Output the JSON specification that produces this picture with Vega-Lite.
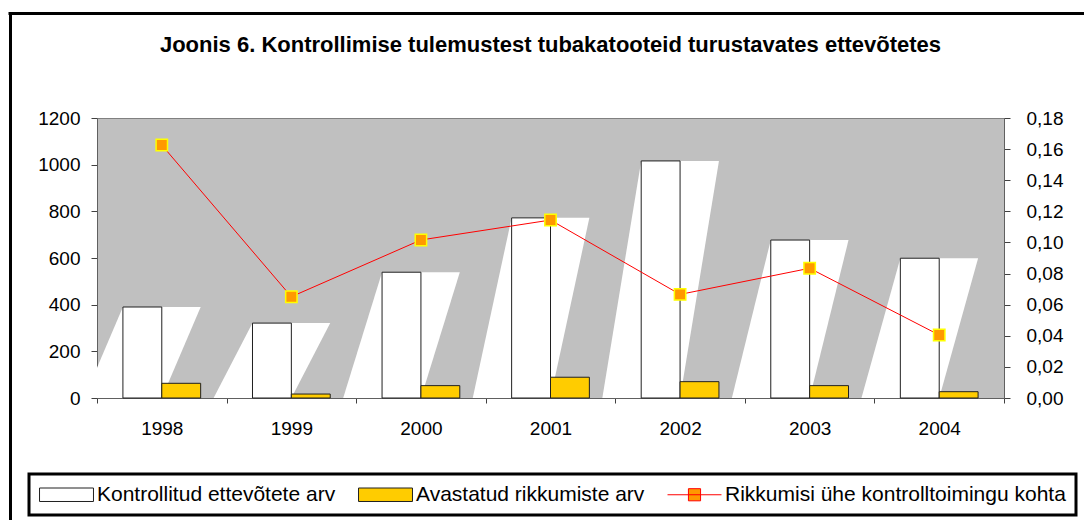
{
  "$schema": "https://vega.github.io/schema/vega-lite/v6.json",
  "width": 907,
  "height": 280,
  "autosize": {"type": "none"},
  "padding": {"left": 97, "top": 118, "right": 80, "bottom": 122},
  "background": "white",
  "config": {
    "font": "Liberation Sans",
    "view": {"fill": "#C0C0C0", "stroke": "#808080", "strokeWidth": 1},
    "axis": {"grid": false, "labelFont": "Liberation Sans", "labelFontSize": 19, "labelColor": "black", "domainColor": "#606060", "tickColor": "#404040", "title": null},
    "legend": {"strokeWidth": 3}
  },
  "title": {
    "text": "Joonis 6. Kontrollimise tulemustest tubakatooteid turustavates ettevõtetes",
    "font": "Liberation Sans",
    "fontSize": 22,
    "fontWeight": "bold",
    "color": "black",
    "anchor": "middle",
    "offset": -44
  },
  "datasets": {
    "bars": [
      {"year": "1998", "series": "Kontrollitud ettevõtete arv", "value": 390},
      {"year": "1999", "series": "Kontrollitud ettevõtete arv", "value": 321},
      {"year": "2000", "series": "Kontrollitud ettevõtete arv", "value": 539},
      {"year": "2001", "series": "Kontrollitud ettevõtete arv", "value": 772},
      {"year": "2002", "series": "Kontrollitud ettevõtete arv", "value": 1016},
      {"year": "2003", "series": "Kontrollitud ettevõtete arv", "value": 677},
      {"year": "2004", "series": "Kontrollitud ettevõtete arv", "value": 599},
      {"year": "1998", "series": "Avastatud rikkumiste arv", "value": 63},
      {"year": "1999", "series": "Avastatud rikkumiste arv", "value": 17},
      {"year": "2000", "series": "Avastatud rikkumiste arv", "value": 53},
      {"year": "2001", "series": "Avastatud rikkumiste arv", "value": 89},
      {"year": "2002", "series": "Avastatud rikkumiste arv", "value": 70},
      {"year": "2003", "series": "Avastatud rikkumiste arv", "value": 53},
      {"year": "2004", "series": "Avastatud rikkumiste arv", "value": 27}
    ],
    "rate": [
      {"year": "1998", "series": "Rikkumisi ühe kontrolltoimingu kohta", "value": 0.1626},
      {"year": "1999", "series": "Rikkumisi ühe kontrolltoimingu kohta", "value": 0.0651},
      {"year": "2000", "series": "Rikkumisi ühe kontrolltoimingu kohta", "value": 0.1016},
      {"year": "2001", "series": "Rikkumisi ühe kontrolltoimingu kohta", "value": 0.1144},
      {"year": "2002", "series": "Rikkumisi ühe kontrolltoimingu kohta", "value": 0.0666},
      {"year": "2003", "series": "Rikkumisi ühe kontrolltoimingu kohta", "value": 0.0834},
      {"year": "2004", "series": "Rikkumisi ühe kontrolltoimingu kohta", "value": 0.0405}
    ]
  },
  "layer": [
    {
      "data": {"name": "bars"},
      "transform": [
        {"filter": "datum.series == 'Kontrollitud ettevõtete arv'"},
        {"window": [{"op": "row_number", "as": "idx"}], "sort": [{"field": "year"}]},
        {"calculate": "[0, datum.value]", "as": "lv"},
        {"flatten": ["lv"]},
        {"calculate": "datum.idx - 1 + (datum.lv > 0 ? 0.2 : -0.1)", "as": "xa"},
        {"calculate": "datum.xa + 0.6", "as": "xb"}
      ],
      "mark": {"type": "area", "orient": "horizontal", "color": "#FFFFFF", "clip": true},
      "encoding": {
        "y": {"field": "lv", "type": "quantitative", "scale": {"domain": [0, 1200]}, "axis": null},
        "x": {"field": "xa", "type": "quantitative", "scale": {"domain": [0, 7], "nice": false, "zero": false}, "axis": null},
        "x2": {"field": "xb"},
        "detail": {"field": "year", "type": "nominal"}
      }
    },
    {
      "data": {"name": "bars"},
      "mark": {"type": "bar", "stroke": "#202020", "strokeWidth": 1},
      "encoding": {
        "x": {
          "field": "year", "type": "nominal",
          "scale": {"type": "band", "paddingInner": 0, "paddingOuter": 0},
          "axis": {"labelAngle": 0, "tickBand": "extent", "tickSize": 5, "labelPadding": 16, "domainColor": "#606060"}
        },
        "xOffset": {
          "field": "series", "type": "nominal",
          "sort": ["Kontrollitud ettevõtete arv", "Avastatud rikkumiste arv"],
          "scale": {"paddingInner": 0, "paddingOuter": 0.6667}
        },
        "y": {
          "field": "value", "type": "quantitative",
          "scale": {"domain": [0, 1200], "nice": false},
          "axis": {"values": [0, 200, 400, 600, 800, 1000, 1200], "format": "d", "tickSize": 6, "labelPadding": 11}
        },
        "color": {
          "field": "series", "type": "nominal",
          "scale": {
            "domain": ["Kontrollitud ettevõtete arv", "Avastatud rikkumiste arv", "Rikkumisi ühe kontrolltoimingu kohta"],
            "range": ["#FFFFFF", "#FFCC00", "#FF9900"]
          },
          "legend": {
            "orient": "none",
            "legendX": -68,
            "legendY": 356,
            "direction": "horizontal",
            "title": null,
            "labelFont": "Liberation Sans",
            "labelFontSize": 21,
            "labelColor": "black",
            "labelLimit": 0,
            "symbolType": "M-4,-1H4V1H-4Z",
            "symbolSize": 182,
            "symbolOffset": 17,
            "symbolStrokeWidth": 1,
            "symbolOpacity": 1,
            "labelOffset": 20,
            "columnPadding": 20,
            "padding": 10,
            "strokeColor": "black",
            "fillColor": "white"
          }
        }
      }
    },
    {
      "data": {"name": "rate"},
      "mark": {"type": "line", "color": "#FF0000", "strokeWidth": 1},
      "encoding": {
        "x": {"field": "year", "type": "nominal", "scale": {"type": "point", "padding": 0.5}, "axis": null},
        "y": {"field": "value", "type": "quantitative", "scale": {"domain": [0, 0.18], "nice": false}, "axis": null}
      }
    },
    {
      "data": {"name": "rate"},
      "mark": {"type": "point", "shape": "square", "filled": true, "size": 130, "stroke": "#FFFF00", "strokeWidth": 1.5, "opacity": 1},
      "encoding": {
        "x": {"field": "year", "type": "nominal", "scale": {"type": "point", "padding": 0.5}, "axis": null},
        "y": {
          "field": "value", "type": "quantitative",
          "scale": {"domain": [0, 0.18], "nice": false},
          "axis": {
            "orient": "right",
            "values": [0, 0.02, 0.04, 0.06, 0.08, 0.1, 0.12, 0.14, 0.16, 0.18],
            "labelExpr": "replace(format(datum.value, '.2f'), '.', ',')",
            "tickSize": 6,
            "labelPadding": 16
          }
        },
        "color": {"field": "series", "type": "nominal", "legend": {"orient": "none", "legendX": -68, "legendY": 356, "direction": "horizontal", "title": null}}
      }
    },
    {
      "data": {"name": "rate"},
      "mark": {"type": "point", "opacity": 0},
      "encoding": {
        "x": {
          "field": "value", "type": "quantitative",
          "scale": {"domain": [0, 1], "range": [-89, 992]},
          "axis": {"orient": "top", "offset": 105, "domainWidth": 3, "domainColor": "black", "ticks": false, "labels": false, "grid": false}
        },
        "y": {
          "field": "value", "type": "quantitative",
          "scale": {"domain": [0, 1], "range": [410, -106.5]},
          "axis": {"orient": "left", "offset": 87, "domainWidth": 3, "domainColor": "black", "ticks": false, "labels": false, "grid": false}
        },
        "shape": {
          "field": "series", "type": "nominal",
          "scale": {
            "domain": ["Kontrollitud ettevõtete arv", "Avastatud rikkumiste arv", "Rikkumisi ühe kontrolltoimingu kohta"],
            "range": ["M-4,-1H4V1H-4Z", "M-4,-1H4V1H-4Z", "M-4,0H4M-0.9,-0.9H0.9V0.9H-0.9Z"]
          },
          "legend": {"orient": "none", "legendX": -68, "legendY": 356, "direction": "horizontal", "title": null}
        },
        "stroke": {
          "field": "series", "type": "nominal",
          "scale": {
            "domain": ["Kontrollitud ettevõtete arv", "Avastatud rikkumiste arv", "Rikkumisi ühe kontrolltoimingu kohta"],
            "range": ["#202020", "#202020", "#FF0000"]
          },
          "legend": {"orient": "none", "legendX": -68, "legendY": 356, "direction": "horizontal", "title": null}
        }
      }
    }
  ],
  "resolve": {"scale": {"x": "independent", "y": "independent", "color": "shared"}}
}
